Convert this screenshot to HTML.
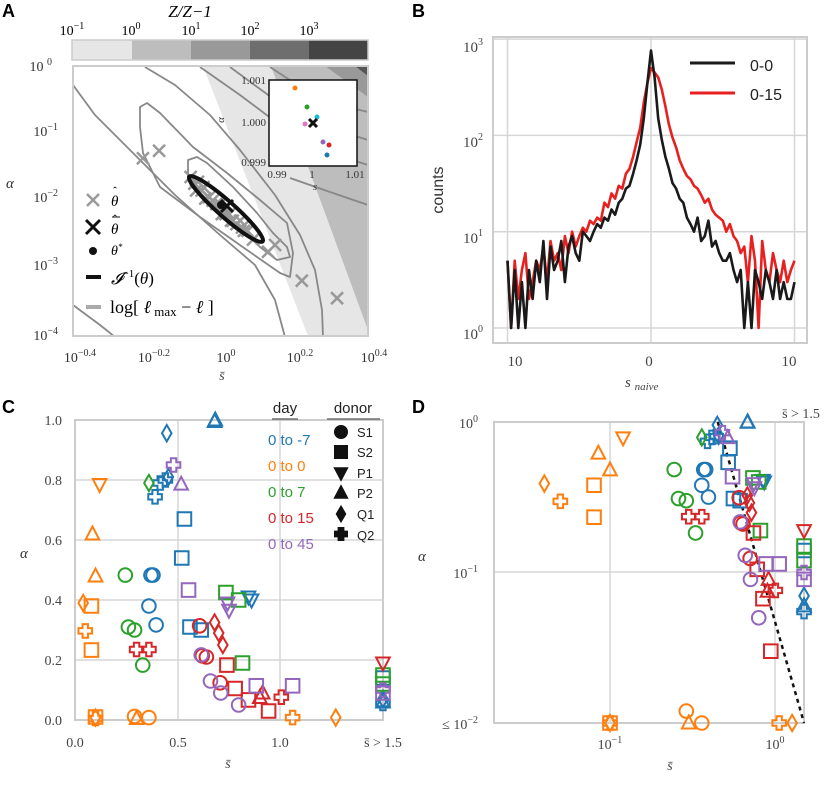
<!DOCTYPE html>
<html><head><meta charset="utf-8">
<style>
html,body{margin:0;padding:0;background:#fff;}
svg{display:block;}
.serif{font-family:"Liberation Serif",serif;}
.sans{font-family:"Liberation Sans",sans-serif;}
</style></head>
<body>
<svg id="fig" width="831" height="786" viewBox="0 0 831 786" xmlns="http://www.w3.org/2000/svg">
<defs>
<clipPath id="clipA"><rect x="73" y="66" width="295" height="270"/></clipPath>
<clipPath id="clipB"><rect x="493" y="37" width="314" height="306"/></clipPath>
</defs>

<text x="2" y="17" class="sans" font-weight="bold" font-size="18">A</text>
<text x="412" y="17" class="sans" font-weight="bold" font-size="18">B</text>
<text x="2" y="413" class="sans" font-weight="bold" font-size="18">C</text>
<text x="412" y="413" class="sans" font-weight="bold" font-size="18">D</text>

<!-- ===== Panel A ===== -->
<g id="panelA">
  <text x="190" y="17" class="serif" font-style="italic" font-size="17" text-anchor="middle">Z/Z−1</text>
  <g>
    <rect x="72" y="40" width="60" height="20" fill="#e6e6e6"/>
    <rect x="132" y="40" width="59" height="20" fill="#bdbdbd"/>
    <rect x="191" y="40" width="59" height="20" fill="#999"/>
    <rect x="250" y="40" width="59" height="20" fill="#6e6e6e"/>
    <rect x="309" y="40" width="59" height="20" fill="#444"/>
    <rect x="72" y="40" width="296" height="20" fill="none" stroke="#ccc" stroke-width="1.5"/>
  </g>
  <g class="serif" font-size="14" text-anchor="middle">
    <text x="72" y="35">10<tspan dy="-6" font-size="10">−1</tspan></text>
    <text x="131" y="35">10<tspan dy="-6" font-size="10">0</tspan></text>
    <text x="191" y="35">10<tspan dy="-6" font-size="10">1</tspan></text>
    <text x="250" y="35">10<tspan dy="-6" font-size="10">2</tspan></text>
    <text x="309" y="35">10<tspan dy="-6" font-size="10">3</tspan></text>
  </g>
  <rect x="73" y="66" width="295" height="270" fill="#fff"/>
  <g clip-path="url(#clipA)">
    <polygon points="203,66 368,66 368,336 308,336" fill="#e6e6e6"/>
    <polygon points="271,66 368,66 368,330" fill="#bdbdbd"/>
    <polygon points="325,66 368,66 368,97" fill="#999"/>
    <polygon points="355,66 368,66 368,76" fill="#555"/>
  </g>
  <g clip-path="url(#clipA)" fill="none" stroke="#888" stroke-width="1.8" stroke-linejoin="round">
    <polygon points="188,160 197,157 207,163 233,187 257,213 273,233 287,247 290,257 277,260 260,247 227,217 200,193 188,177"/>
    <polygon points="140,107 147,103 160,113 193,147 227,173 260,200 287,223 293,253 290,277 280,273 247,250 200,217 160,187 143,153 140,127"/>
    <polyline points="73,85 95,115 130,150 175,195 220,235 255,265 275,300 285,337"/>
    <polyline points="145,67 175,85 210,115 240,150 275,195 300,235 315,270 322,310 323,337"/>
    <polyline points="200,67 240,95 280,125 320,150 368,165"/>
    <polyline points="230,67 275,100 320,125 368,140"/>
    <polyline points="270,67 305,90 340,105 368,112"/>
    <polyline points="290,178 330,192 368,205"/>
    <polyline points="73,305 100,325 115,337"/>
  </g>
  <g id="aMarks"></g>
  <ellipse cx="226" cy="209" rx="49" ry="8" transform="rotate(41.5 226 209)" fill="none" stroke="#111" stroke-width="4"/>
  <circle cx="221" cy="205" r="4" fill="#111"/>
  <g stroke="#111" stroke-width="3"><line x1="221" y1="200" x2="233" y2="212"/><line x1="233" y1="200" x2="221" y2="212"/></g>
  <rect x="73" y="66" width="295" height="270" fill="none" stroke="#ccc" stroke-width="2"/>
  <g>
    <rect x="269" y="80" width="88" height="86" fill="#fff" stroke="#111" stroke-width="1.5"/>
    <g class="serif" font-size="11" fill="#333">
      <text x="266" y="84" text-anchor="end">1.001</text>
      <text x="266" y="126" text-anchor="end">1.000</text>
      <text x="266" y="166" text-anchor="end">0.999</text>
      <text x="277" y="178" text-anchor="middle">0.99</text>
      <text x="312" y="178" text-anchor="middle">1</text>
      <text x="355" y="178" text-anchor="middle">1.01</text>
      <text x="315" y="190" text-anchor="middle" font-style="italic">s</text>
      <text x="224" y="120" text-anchor="middle" font-style="italic" transform="rotate(-90 224 120)">α</text>
    </g>
    <circle cx="295" cy="88" r="2.5" fill="#ff7f0e"/>
    <circle cx="307" cy="107" r="2.5" fill="#2ca02c"/>
    <circle cx="317" cy="117" r="2.5" fill="#17becf"/>
    <circle cx="305" cy="124" r="2.5" fill="#e377c2"/>
    <circle cx="323" cy="142" r="2.5" fill="#9467bd"/>
    <circle cx="329" cy="145" r="2.5" fill="#d62728"/>
    <circle cx="327" cy="155" r="2.5" fill="#1f77b4"/>
    <g stroke="#111" stroke-width="3"><line x1="309" y1="119" x2="317" y2="127"/><line x1="317" y1="119" x2="309" y2="127"/></g>
  </g>
  <g>
    <g stroke="#999" stroke-width="2.5"><line x1="87" y1="194" x2="99" y2="206"/><line x1="99" y1="194" x2="87" y2="206"/></g>
    <text x="111" y="206" class="serif" font-style="italic" font-size="15">θ</text>
    <text x="113" y="195" class="serif" font-size="12">ˆ</text>
    <g stroke="#111" stroke-width="3"><line x1="86" y1="220" x2="100" y2="234"/><line x1="100" y1="220" x2="86" y2="234"/></g>
    <text x="111" y="234" class="serif" font-style="italic" font-size="15">θ</text>
    <text x="113" y="223" class="serif" font-size="12">ˆ</text>
    <line x1="112" y1="217" x2="120" y2="217" stroke="#111" stroke-width="1"/>
    <circle cx="93" cy="251" r="4" fill="#111"/>
    <text x="111" y="255" class="serif" font-style="italic" font-size="14">θ<tspan dy="-5" font-size="9">*</tspan></text>
    <line x1="86" y1="277" x2="101" y2="277" stroke="#111" stroke-width="4"/>
    <text x="111" y="284" class="serif" font-size="17"><tspan font-style="italic">𝓘</tspan><tspan dy="-7" font-size="11">−1</tspan><tspan dy="7">(</tspan><tspan font-style="italic">θ</tspan>)</text>
    <line x1="86" y1="307" x2="101" y2="307" stroke="#aaa" stroke-width="4"/>
    <text x="110" y="313" class="serif" font-size="18">log[ <tspan font-style="italic">ℓ</tspan><tspan font-size="13" dy="3"> max</tspan><tspan dy="-3"> − </tspan><tspan font-style="italic">ℓ</tspan> ]</text>
  </g>
  <g class="serif" font-size="14" fill="#333" text-anchor="end">
    <text x="52" y="71">10 <tspan dy="-6" font-size="10">0</tspan></text>
    <text x="58" y="136">10<tspan dy="-6" font-size="10">−1</tspan></text>
    <text x="58" y="202">10<tspan dy="-6" font-size="10">−2</tspan></text>
    <text x="58" y="270">10<tspan dy="-6" font-size="10">−3</tspan></text>
    <text x="58" y="340">10<tspan dy="-6" font-size="10">−4</tspan></text>
  </g>
  <g class="serif" font-size="14" fill="#333" text-anchor="middle">
    <text x="80" y="362">10<tspan dy="-6" font-size="10">−0.4</tspan></text>
    <text x="154" y="362">10<tspan dy="-6" font-size="10">−0.2</tspan></text>
    <text x="226" y="362">10<tspan dy="-6" font-size="10">0</tspan></text>
    <text x="300" y="362">10<tspan dy="-6" font-size="10">0.2</tspan></text>
    <text x="374" y="362">10<tspan dy="-6" font-size="10">0.4</tspan></text>
  </g>
  <text x="222" y="380" class="serif" font-style="italic" font-size="14" text-anchor="middle" fill="#444">s̄</text>
  <text x="6" y="188" class="serif" font-style="italic" font-size="15" fill="#333">α</text>
</g>

<!-- ===== Panel B ===== -->
<g id="panelB">
  <g id="bGrid" stroke="#d6d6d6" stroke-width="1.5"></g>
  <g id="bLines" clip-path="url(#clipB)"></g>
  <rect x="493" y="37" width="314" height="306" fill="none" stroke="#ccc" stroke-width="2"/>
  <g class="serif" font-size="15" fill="#444" text-anchor="end">
    <text x="483" y="52">10<tspan dy="-7" font-size="10">3</tspan></text>
    <text x="483" y="147">10<tspan dy="-7" font-size="10">2</tspan></text>
    <text x="483" y="243">10<tspan dy="-7" font-size="10">1</tspan></text>
    <text x="483" y="339">10<tspan dy="-7" font-size="10">0</tspan></text>
  </g>
  <g class="serif" font-size="15" fill="#444" text-anchor="middle">
    <text x="515" y="366">10</text><text x="649" y="366">0</text><text x="789" y="366">10</text>
  </g>
  <text x="625" y="387" class="serif" font-style="italic" font-size="15" fill="#444">s <tspan font-size="11" dy="3">naive</tspan></text>
  <text x="443" y="190" class="sans" font-size="16" fill="#333" text-anchor="middle" transform="rotate(-90 443 190)">counts</text>
  <g>
    <line x1="690" y1="63" x2="735" y2="63" stroke="#1a1a1a" stroke-width="3"/>
    <text x="750" y="71" class="sans" font-size="16" fill="#222">0-0</text>
    <line x1="690" y1="93" x2="735" y2="93" stroke="#e8201f" stroke-width="3"/>
    <text x="750" y="100" class="sans" font-size="16" fill="#222">0-15</text>
  </g>
</g>

<!-- ===== Panel C ===== -->
<g id="panelC">
  <g stroke="#d6d6d6" stroke-width="1.5">
    <line x1="75" y1="480" x2="383" y2="480"/><line x1="75" y1="540" x2="383" y2="540"/><line x1="75" y1="600" x2="383" y2="600"/><line x1="75" y1="660" x2="383" y2="660"/>
    <line x1="178" y1="420" x2="178" y2="720"/><line x1="280" y1="420" x2="280" y2="720"/>
  </g>
  <rect x="75" y="420" width="308" height="300" fill="none" stroke="#ccc" stroke-width="2"/>
  <g id="cMarks"></g>
  <g class="serif" font-size="14" fill="#444" text-anchor="end">
    <text x="62" y="425">1.0</text><text x="62" y="485">0.8</text><text x="62" y="545">0.6</text><text x="62" y="605">0.4</text><text x="62" y="665">0.2</text><text x="62" y="725">0.0</text>
  </g>
  <g class="serif" font-size="14" fill="#444" text-anchor="middle">
    <text x="75" y="747">0.0</text><text x="178" y="747">0.5</text><text x="280" y="747">1.0</text><text x="383" y="747">s̄ &gt; 1.5</text>
  </g>
  <text x="228" y="768" class="serif" font-style="italic" font-size="14" fill="#444" text-anchor="middle">s̄</text>
  <text x="20" y="558" class="serif" font-style="italic" font-size="15" fill="#333">α</text>
  <g class="sans">
    <text x="285" y="413" font-size="15" fill="#222" text-anchor="middle">day</text>
    <line x1="272" y1="419" x2="298" y2="419" stroke="#555" stroke-width="1.2"/>
    <text x="353" y="413" font-size="15" fill="#222" text-anchor="middle">donor</text>
    <line x1="327" y1="419" x2="380" y2="419" stroke="#555" stroke-width="1.2"/>
    <text x="268" y="445" font-size="15" fill="#1f77b4">0 to -7</text>
    <text x="268" y="471" font-size="15" fill="#ff7f0e">0 to 0</text>
    <text x="268" y="497" font-size="15" fill="#2ca02c">0 to 7</text>
    <text x="268" y="523" font-size="15" fill="#d62728">0 to 15</text>
    <text x="268" y="549" font-size="15" fill="#9467bd">0 to 45</text>
    <g id="cLegMarks"></g>
    <text x="357" y="437" font-size="13" fill="#222">S1</text>
    <text x="357" y="457" font-size="13" fill="#222">S2</text>
    <text x="357" y="478" font-size="13" fill="#222">P1</text>
    <text x="357" y="498" font-size="13" fill="#222">P2</text>
    <text x="357" y="519" font-size="13" fill="#222">Q1</text>
    <text x="357" y="540" font-size="13" fill="#222">Q2</text>
  </g>
</g>

<!-- ===== Panel D ===== -->
<g id="panelD">
  <g stroke="#d6d6d6" stroke-width="1.5">
    <line x1="494" y1="572" x2="804" y2="572"/>
    <line x1="610" y1="422" x2="610" y2="723"/><line x1="775" y1="422" x2="775" y2="723"/>
  </g>
  <rect x="494" y="422" width="310" height="301" fill="none" stroke="#ccc" stroke-width="2"/>
  <g id="dMarks"></g>
  <g class="serif" font-size="14" fill="#444" text-anchor="end">
    <text x="478" y="428">10<tspan dy="-6" font-size="10">0</tspan></text>
    <text x="478" y="578">10<tspan dy="-6" font-size="10">−1</tspan></text>
    <text x="478" y="729">≤ 10<tspan dy="-6" font-size="10">−2</tspan></text>
  </g>
  <g class="serif" font-size="14" fill="#444" text-anchor="middle">
    <text x="610" y="749">10<tspan dy="-6" font-size="10">−1</tspan></text>
    <text x="775" y="749">10<tspan dy="-6" font-size="10">0</tspan></text>
  </g>
  <text x="801" y="418" class="serif" font-size="14" fill="#444" text-anchor="middle">s̄ &gt; 1.5</text>
  <text x="670" y="770" class="serif" font-style="italic" font-size="14" fill="#444" text-anchor="middle">s̄</text>
  <text x="418" y="561" class="serif" font-style="italic" font-size="15" fill="#333">α</text>
</g>
</svg>

<script>
// ---------- Panel A data (log10 values of theta-hat estimates) ----------
const aLogS = [-0.21,-0.166,0.223,0.319,0.15,0.131,
  -0.08,-0.07,-0.06,-0.05,-0.045,-0.03,-0.02,-0.01,0.0,0.01,0.015,0.025,0.035,0.045,0.055,0.065,0.075,0.09,-0.065,-0.04,0.005,0.03,0.06];
const aLogA = [-1.37,-1.26,-3.19,-3.45,-2.66,-2.76,
  -1.65,-1.75,-1.72,-1.85,-1.80,-1.95,-2.00,-2.05,-2.05,-2.12,-2.20,-2.20,-2.30,-2.35,-2.30,-2.45,-2.45,-2.58,-1.85,-1.97,-2.20,-2.30,-2.40];

// ---------- Panel B data ----------
const bBins = [];
for (let i = 0; i <= 80; i++) bBins.push(-10 + i * 0.25);
const countsBlack = [5,1,4,1,3,1,4,2,5, 3,8,2,7,4,5,8,3, 7,9,6,5,10,9,8,10, 12,11,14,13,17,15,20,22, 28,30,40,55,80,150,350, 760, 400,150,90,60,45,32,28,22, 20,14,12,10,14,8,9,13, 7,8,6,5,5,6,4,3, 4,1,3,1,4,3,2,4, 3,2,4,2,3,2,2,3];
const countsRed = [5,1,5,2,4,6,2,3,5, 4,7,3,8,5,6,4,9, 6,10,7,9,11,10,13,12, 14,13,20,18,25,22,30,28, 40,45,60,85,120,220,350, 500, 450,400,300,200,130,95,75,55, 45,38,35,30,28,24,20,22, 17,15,14,13,10,12,9,8, 6,7,3,9,5,1,8,4, 3,6,4,3,5,3,4,5];
const bYTicks = [1,10,100,1000];
const bXTicks = [-10,0,10];

// ---------- Panels C/D data ----------
const sVals = [0.447,0.683,0.68,0.39,0.415,0.44,0.455,0.533,0.52,0.37,0.38,0.36,0.395,0.56,0.615,0.845,0.86,1.5,1.5,1.5,1.5,
  0.12,0.085,0.1,0.04,0.08,0.05,0.08,0.1,0.1,0.1,0.29,0.3,0.36,1.06,1.27,
  0.36,0.245,0.26,0.29,0.33,0.735,0.797,0.816,1.5,1.5,
  0.607,0.64,0.62,0.68,0.70,0.72,0.3,0.36,0.74,0.78,0.845,0.943,0.707,0.914,0.9,1.005,1.5,
  0.48,0.517,0.553,0.743,0.75,0.615,0.66,0.71,0.797,0.883,1.06,1.5,1.5];
const aVals = [0.956,1.0,0.995,0.744,0.79,0.80,0.81,0.67,0.54,0.483,0.483,0.38,0.317,0.31,0.30,0.41,0.40,0.14,0.07,0.055,0.06,
  0.785,0.62,0.48,0.39,0.38,0.297,0.233,0.01,0.005,0.008,0.012,0.005,0.008,0.008,0.008,
  0.79,0.483,0.31,0.30,0.183,0.425,0.40,0.19,0.15,0.12,
  0.314,0.21,0.214,0.325,0.29,0.25,0.235,0.235,0.183,0.105,0.067,0.03,0.124,0.09,0.075,0.076,0.19,
  0.85,0.786,0.433,0.39,0.366,0.217,0.13,0.09,0.05,0.114,0.114,0.09,0.1];
const dayIdx = [0,0,0,0,0,0,0,0,0,0,0,0,0,0,0,0,0,0,0,0,0,
  1,1,1,1,1,1,1,1,1,1,1,1,1,1,1,
  2,2,2,2,2,2,2,2,2,2,
  3,3,3,3,3,3,3,3,3,3,3,3,3,3,3,3,3,
  4,4,4,4,4,4,4,4,4,4,4,4,4];
const donorMarker = ['d','^','^','p','p','p','d','s','s','c','c','c','c','s','s','v','v','s','d','p','^',
  'v','^','^','d','s','p','s','s','p','d','c','^','c','p','d',
  'd','c','c','c','c','s','s','s','s','s',
  'c','c','c','d','d','d','p','p','s','s','s','s','c','^','^','p','v',
  'p','^','s','v','v','c','c','c','c','s','s','s','p'];
const dayColors = ['#1f77b4','#ff7f0e','#2ca02c','#d62728','#9467bd'];
const fitLineS = [0.45,1.5];
const fitLineA = [1.0,0.01];

const NS = 'http://www.w3.org/2000/svg';

const axAx = v => 220 + v * 367;
const axAy = v => 66 - v * 67.3;
const aG = document.getElementById('aMarks');
for (let i = 0; i < aLogS.length; i++) {
  const x = axAx(aLogS[i]), y = axAy(aLogA[i]);
  const g = document.createElementNS(NS,'path');
  g.setAttribute('d', `M${x-6},${y-6}L${x+6},${y+6}M${x+6},${y-6}L${x-6},${y+6}`);
  g.setAttribute('stroke','#999');
  g.setAttribute('stroke-width','2.5');
  
  
  aG.appendChild(g);
}

const bx = v => 651 + v * 14.35;
const by = v => 328 - Math.log10(Math.max(v, 0.85)) * 96.3;
const bGrid = document.getElementById('bGrid');
bYTicks.forEach(t => {
  const l = document.createElementNS(NS,'line');
  l.setAttribute('x1',493); l.setAttribute('x2',807);
  l.setAttribute('y1',by(t)); l.setAttribute('y2',by(t));
  
  
  bGrid.appendChild(l);
});
bXTicks.forEach(t => {
  const l = document.createElementNS(NS,'line');
  l.setAttribute('y1',37); l.setAttribute('y2',343);
  l.setAttribute('x1',bx(t)); l.setAttribute('x2',bx(t));
  
  
  bGrid.appendChild(l);
});
function bLine(vals, color, name) {
  const p = document.createElementNS(NS,'polyline');
  p.setAttribute('points', vals.map((v,i) => bx(bBins[i]).toFixed(1)+','+by(v).toFixed(1)).join(' '));
  p.setAttribute('fill','none');
  p.setAttribute('stroke',color);
  p.setAttribute('stroke-width','2.6');
  p.setAttribute('stroke-linejoin','round');
  
  
  document.getElementById('bLines').appendChild(p);
}
bLine(countsRed, '#e8201f', 'series-0-15');
bLine(countsBlack, '#1a1a1a', 'series-0-0');

function markerPath(t, x, y, r) {
  if (t === 'c') return `M${x-r},${y}a${r},${r} 0 1,0 ${2*r},0a${r},${r} 0 1,0 ${-2*r},0Z`;
  if (t === 's') return `M${x-r},${y-r}h${2*r}v${2*r}h${-2*r}Z`;
  if (t === '^') return `M${x},${y-r*1.1}L${x+r},${y+r*0.8}L${x-r},${y+r*0.8}Z`;
  if (t === 'v') return `M${x},${y+r*1.1}L${x+r},${y-r*0.8}L${x-r},${y-r*0.8}Z`;
  if (t === 'd') return `M${x},${y-r*1.2}L${x+r*0.7},${y}L${x},${y+r*1.2}L${x-r*0.7},${y}Z`;
  const a = r*0.4;
  return `M${x-a},${y-r}h${2*a}v${r-a}h${r-a}v${2*a}h${a-r}v${r-a}h${-2*a}v${a-r}h${a-r}v${-2*a}h${r-a}Z`;
}
function addMarker(parent, t, x, y, r, color, filled, name) {
  const p = document.createElementNS(NS,'path');
  p.setAttribute('d', markerPath(t, x, y, r));
  p.setAttribute('fill', filled ? color : 'none');
  p.setAttribute('stroke', color);
  p.setAttribute('stroke-width', '2');
  
  
  parent.appendChild(p);
}

const cx = v => 75 + Math.min(v,1.5) * 205.3;
const cy = v => 720 - v * 300;
const cG = document.getElementById('cMarks');
for (let i = 0; i < sVals.length; i++) {
  addMarker(cG, donorMarker[i], cx(sVals[i]), cy(Math.max(aVals[i],0.005)), 6.8, dayColors[dayIdx[i]], false, 'c-point');
}
const legMarkers = ['c','s','v','^','d','p'];
const legY = [432,452,473,493,514,534];
legMarkers.forEach((m,i) => addMarker(document.getElementById('cLegMarks'), m, 341, legY[i], 6, '#111', true, 'legend-donor-marker'));

const dx = v => 775 + Math.log10(Math.min(v,1.5)) * 165;
const dy = v => 422 - Math.log10(Math.max(v,0.01)) * 150.5;
const dG = document.getElementById('dMarks');
const fit = document.createElementNS(NS,'polyline');
fit.setAttribute('points', fitLineS.map((s,i) => dx(s)+','+dy(fitLineA[i])).join(' '));
fit.setAttribute('stroke','#111');
fit.setAttribute('stroke-width','2.5');
fit.setAttribute('stroke-dasharray','4,4');
fit.setAttribute('fill','none');


dG.appendChild(fit);
for (let i = 0; i < sVals.length; i++) {
  addMarker(dG, donorMarker[i], dx(sVals[i]), dy(aVals[i]), 6.8, dayColors[dayIdx[i]], false, 'd-point');
}
</script>
</body></html>
